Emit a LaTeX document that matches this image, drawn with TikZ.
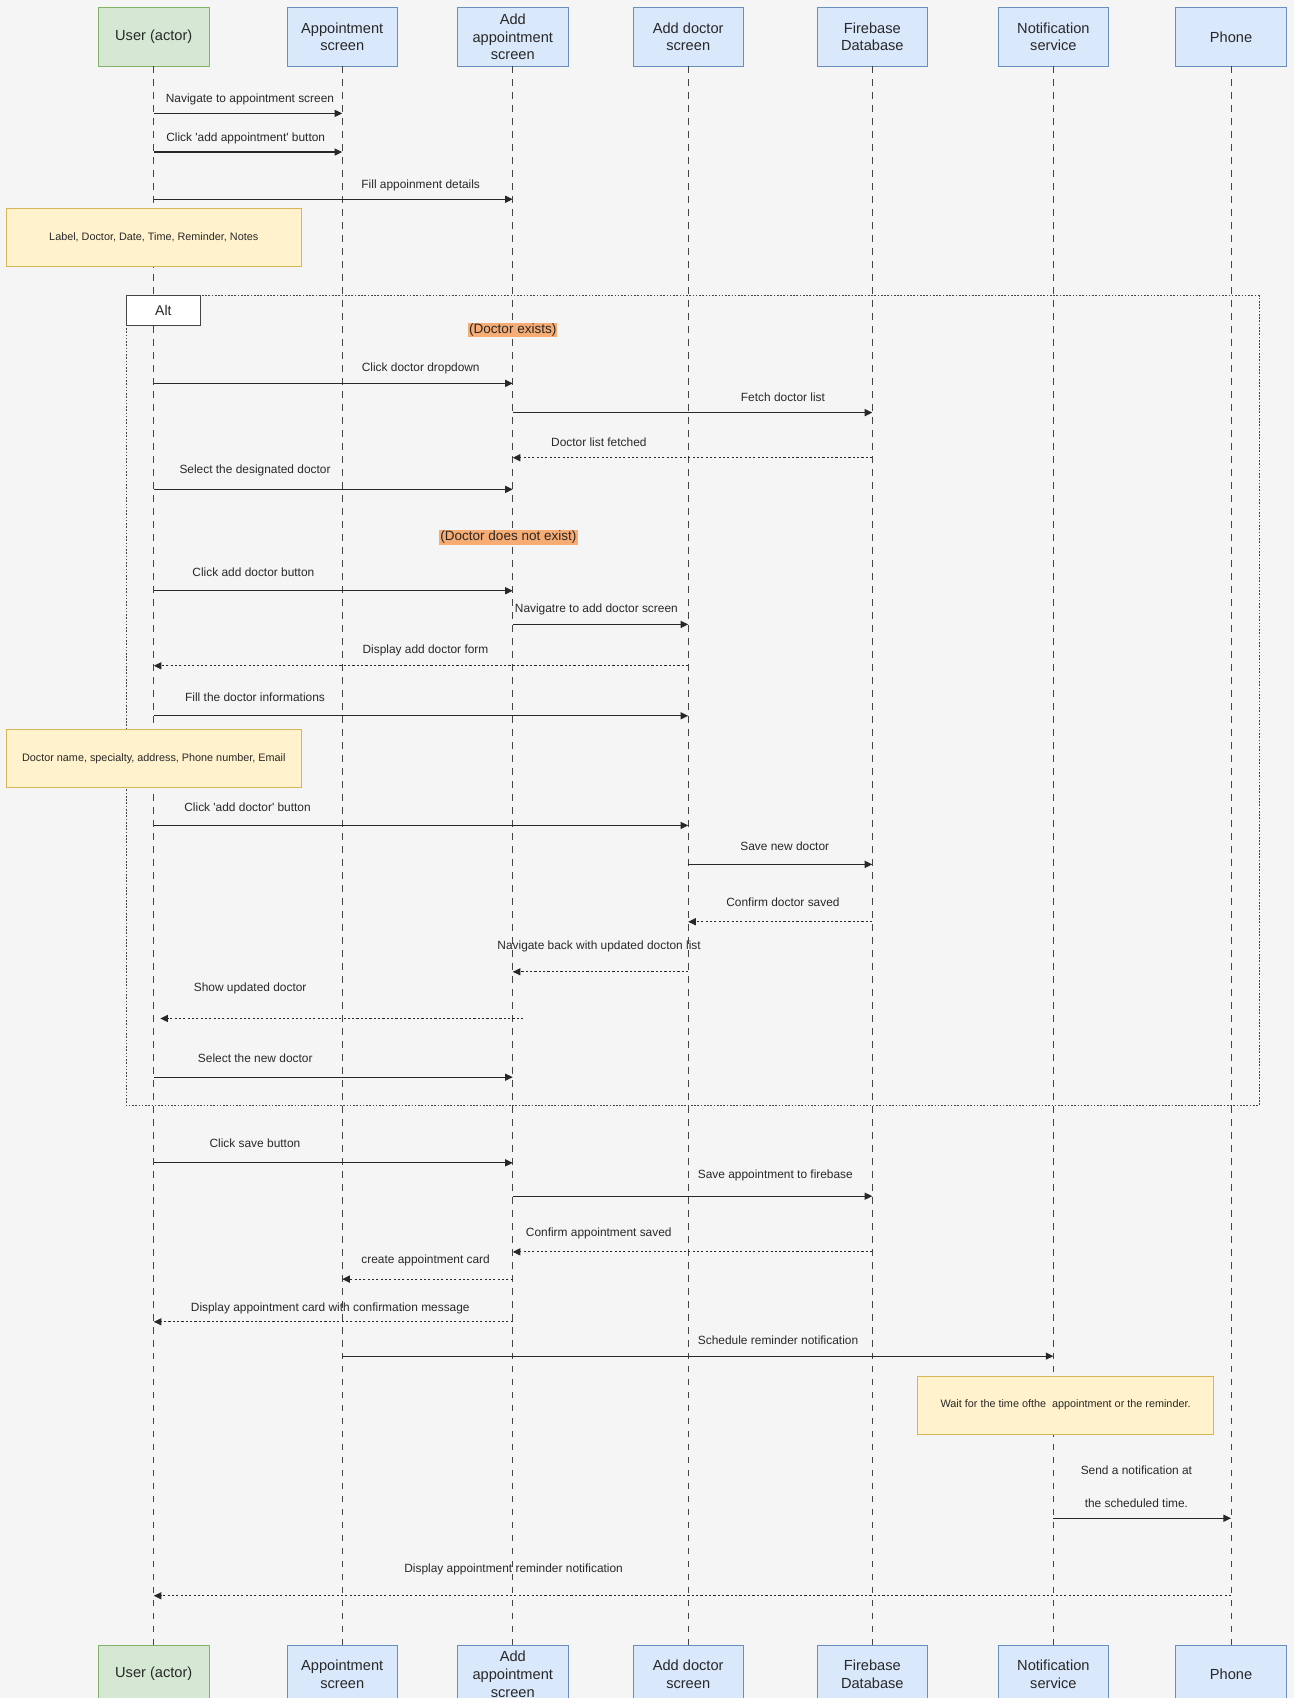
\documentclass[tikz,border=0pt]{standalone}
\usepackage{fontspec}
\setmainfont{Liberation Sans}
\usetikzlibrary{arrows.meta}
\definecolor{bgGray}{RGB}{245,245,245}
\definecolor{drawBlue}{RGB}{218,232,252}
\definecolor{drawBlueLine}{RGB}{108,142,191}
\definecolor{drawGreen}{RGB}{213,232,212}
\definecolor{drawGreenLine}{RGB}{130,179,102}
\definecolor{noteYellow}{RGB}{255,242,204}
\definecolor{noteLine}{RGB}{214,182,86}
\definecolor{guardOrange}{RGB}{247,172,115}
\definecolor{inkDark}{RGB}{40,40,40}
\definecolor{lineGray}{RGB}{68,68,68}

\begin{document}
\begin{tikzpicture}[
  x=1pt,y=-1pt,
  every node/.style={align=center, text=inkDark},
  part/.style={draw=drawBlueLine, fill=drawBlue, line width=.8pt, minimum width=102pt, minimum height=54pt, inner sep=2pt, font=\fontsize{13.5}{16.5}\selectfont},
  actor/.style={part, draw=drawGreenLine, fill=drawGreen},
  lifeline/.style={lineGray, line width=.8pt, dash pattern=on 6pt off 6pt},
  msg/.style={inkDark, line width=1pt, -{Triangle[length=7pt,width=6.5pt]}},
  reply/.style={msg, dash pattern=on 2pt off 2pt},
  lbl/.style={font=\fontsize{11}{13}\selectfont, inner sep=0pt},
  note/.style={draw=noteLine, fill=noteYellow, line width=.6pt, minimum width=273pt, minimum height=54pt, font=\fontsize{10}{12}\selectfont},
  guard/.style={fill=guardOrange, inner sep=1pt, font=\fontsize{12.5}{15}\selectfont},
  fragframe/.style={lineGray, line width=.8pt, dash pattern=on 1.5pt off 1.5pt},
  fragtab/.style={draw=lineGray, fill=white, line width=.8pt, minimum width=68pt, minimum height=27pt, font=\fontsize{13}{15}\selectfont}
]
\useasboundingbox (0,0) rectangle (1195,1568);
\clip (0,0) rectangle (1195,1568);
\fill[bgGray] (0,0) rectangle (1195,1568);

% participants, top and bottom
\node[actor] (user)    at (142,34)    {User (actor)};
\node[part]  (appt)    at (316,34)    {Appointment\\screen};
\node[part]  (addappt) at (473.5,34)  {Add\\appointment\\screen};
\node[part]  (adddoc)  at (635.5,34)  {Add doctor\\screen};
\node[part]  (fbase)   at (805.5,34)  {Firebase\\Database};
\node[part]  (notif)   at (972.7,34)  {Notification\\service};
\node[part]  (phone)   at (1136.8,34) {Phone};

\node[actor] (userb)    at (142,1546)    {User (actor)};
\node[part]  (apptb)    at (316,1546)    {Appointment\\screen};
\node[part]  (addapptb) at (473.5,1546)  {Add\\appointment\\screen};
\node[part]  (adddocb)  at (635.5,1546)  {Add doctor\\screen};
\node[part]  (fbaseb)   at (805.5,1546)  {Firebase\\Database};
\node[part]  (notifb)   at (972.7,1546)  {Notification\\service};
\node[part]  (phoneb)   at (1136.8,1546) {Phone};

\draw[fragframe] (116.8,273) rectangle (1162.6,1020.8);

\draw[lifeline] (user) -- (userb);
\draw[lifeline] (appt) -- (apptb);
\draw[lifeline] (addappt) -- (addapptb);
\draw[lifeline] (adddoc) -- (adddocb);
\draw[lifeline] (fbase) -- (fbaseb);
\draw[lifeline] (notif) -- (notifb);
\draw[lifeline] (phone) -- (phoneb);

% opening the form
\draw[msg] (user |- 0,104.7) -- (appt |- 0,104.7);
\node[lbl] (l1) at (230.8,91.4) {Navigate to appointment screen};
\draw[msg] (user |- 0,140.4) -- (appt |- 0,140.4);
\node[lbl] (l2) at (226.9,127.7) {Click \textquotesingle add appointment\textquotesingle\ button};
\draw[msg] (user |- 0,184) -- (addappt |- 0,184);
\node[lbl] (l3) at (388.5,171) {Fill appoinment details};
\node[note] (n1) at (142,219.3) {Label, Doctor, Date, Time, Reminder, Notes};

% alt fragment
\node[fragtab] (alt) at (150.9,286.6) {Alt};
\node[guard] (g1) at (473.5,304.8) {(Doctor exists)};
\draw[msg] (user |- 0,354) -- (addappt |- 0,354);
\node[lbl] (l4) at (388.5,340) {Click doctor dropdown};
\draw[msg] (addappt |- 0,381) -- (fbase |- 0,381);
\node[lbl] (l5) at (723,367) {Fetch doctor list};
\draw[reply] (fbase |- 0,422.7) -- (addappt |- 0,422.7);
\node[lbl] (l6) at (553,408.8) {Doctor list fetched};
\draw[msg] (user |- 0,451.9) -- (addappt |- 0,451.9);
\node[lbl] (l7) at (235.5,434.7) {Select the designated doctor};

\node[guard] (g2) at (469.5,496.2) {(Doctor does not exist)};
\draw[msg] (user |- 0,545.5) -- (addappt |- 0,545.5);
\node[lbl] (l8) at (234,528) {Click add doctor button};
\draw[msg] (addappt |- 0,576.6) -- (adddoc |- 0,576.6);
\node[lbl] (l9) at (550.7,562.7) {Navigatre to add doctor screen};
\draw[reply] (adddoc |- 0,614.8) -- (user |- 0,614.8);
\node[lbl] (l10) at (392.9,600.3) {Display add doctor form};
\draw[msg] (user |- 0,661) -- (adddoc |- 0,661);
\node[lbl] (l11) at (235.5,644) {Fill the doctor informations};
\node[note] (n2) at (142,700.5) {Doctor name, specialty, address, Phone number, Email};
\draw[msg] (user |- 0,762.2) -- (adddoc |- 0,762.2);
\node[lbl] (l12) at (228.6,745.6) {Click \textquotesingle add doctor\textquotesingle\ button};
\draw[msg] (adddoc |- 0,798.2) -- (fbase |- 0,798.2);
\node[lbl] (l13) at (724.7,781.3) {Save new doctor};
\draw[reply] (fbase |- 0,851.2) -- (adddoc |- 0,851.2);
\node[lbl] (l14) at (723,833.6) {Confirm doctor saved};
\draw[reply] (adddoc |- 0,897.4) -- (addappt |- 0,897.4);
\node[lbl] (l15) at (553.2,874.3) {Navigate back with updated docton list};
\coordinate (showfrom) at (483.2,940.5);
\draw[reply] (showfrom) -- ([xshift=6pt]user |- showfrom);
\node[lbl] (l16) at (231,913) {Show updated doctor};
\draw[msg] (user |- 0,994.7) -- (addappt |- 0,994.7);
\node[lbl] (l17) at (235.7,977) {Select the new doctor};

% saving
\draw[msg] (user |- 0,1073.8) -- (addappt |- 0,1073.8);
\node[lbl] (l18) at (235.4,1055.9) {Click save button};
\draw[msg] (addappt |- 0,1104.6) -- (fbase |- 0,1104.6);
\node[lbl] (l19) at (716,1085.4) {Save appointment to firebase};
\draw[reply] (fbase |- 0,1156) -- (addappt |- 0,1156);
\node[lbl] (l20) at (552.9,1139) {Confirm appointment saved};
\draw[reply] (addappt |- 0,1181.2) -- (appt |- 0,1181.2);
\node[lbl] (l21) at (393,1164.3) {create appointment card};
\draw[reply] (addappt |- 0,1220.6) -- (user |- 0,1220.6);
\node[lbl] (l22) at (305,1208.6) {Display appointment card with confirmation message};

% reminder
\draw[msg] (appt |- 0,1252.3) -- (notif |- 0,1252.3);
\node[lbl] (l23) at (718.5,1237.5) {Schedule reminder notification};
\node[note] (n3) at (984,1297.5) {Wait for the time ofthe~ appointment or the reminder.};
\draw[msg] (notif |- 0,1402) -- (phone |- 0,1402);
\node[lbl, font=\fontsize{11}{30.8}\selectfont] (l24) at (1049.4,1373) {Send a notification at\\the scheduled time.};
\draw[reply] (phone |- 0,1473.6) -- (user |- 0,1473.6);
\node[lbl] (l25) at (474.3,1449.3) {Display appointment reminder notification};
\end{tikzpicture}
\end{document}
